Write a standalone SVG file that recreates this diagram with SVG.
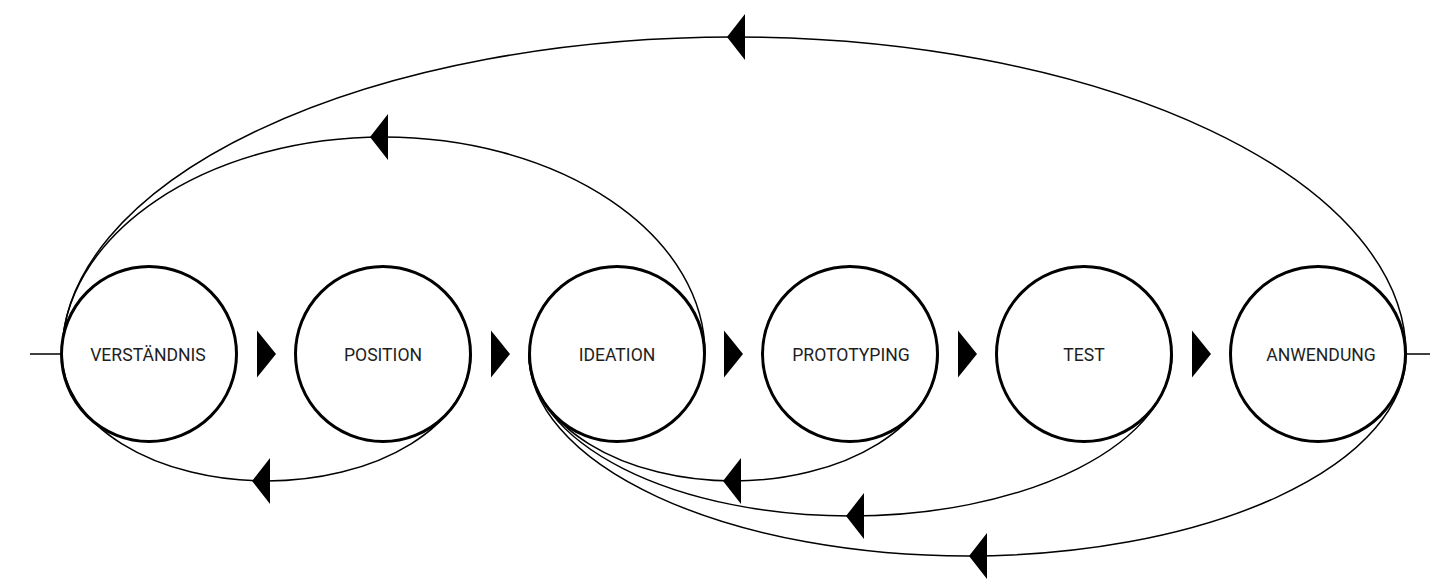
<svg xmlns="http://www.w3.org/2000/svg" xmlns:xlink="http://www.w3.org/1999/xlink" width="1436" height="579" viewBox="0 0 1436 579">
  <style>
    .node circle { fill: none; stroke: #000; stroke-width: 3; }
    .node text { font-family: Roboto, "Liberation Sans", sans-serif; font-size: 17.6px; font-weight: 400; fill: #1e1e1e; text-anchor: middle; }
    .conn { fill: none; stroke: #000; stroke-width: 1.5; }
    .head { fill: #000; }
  </style>
  <defs>
    <polygon id="larr" points="0,0 18,-23 18,23"/>
    <polygon id="rarr" points="0,-23.5 19,0 0,23.5"/>
  </defs>
  <rect width="1436" height="579" fill="#fff"/>
  <g id="connectors">
    <line class="conn" x1="30" y1="354" x2="62" y2="354"/>
    <line class="conn" x1="1406" y1="354" x2="1430" y2="354"/>
    <path class="conn" d="M 1406 354 A 672 317 0 0 0 62 354"/>
    <path class="conn" d="M 705 354 A 321.5 217 0 0 0 62 354"/>
    <path class="conn" d="M 471 354 A 204.5 127 0 0 1 62 354"/>
    <path class="conn" d="M 938 354 A 204.5 127 0 0 1 529 354"/>
    <path class="conn" d="M 1172 354 A 321.5 162 0 0 1 529 354"/>
    <path class="conn" d="M 1406 354 A 438.5 202 0 0 1 529 354"/>
    <g class="head">
      <use xlink:href="#larr" x="727" y="37"/>
      <use xlink:href="#larr" x="370" y="137"/>
      <use xlink:href="#larr" x="252" y="481"/>
      <use xlink:href="#larr" x="723" y="481"/>
      <use xlink:href="#larr" x="846" y="516"/>
      <use xlink:href="#larr" x="969" y="556"/>
      <use xlink:href="#rarr" x="257" y="354"/>
      <use xlink:href="#rarr" x="491" y="354"/>
      <use xlink:href="#rarr" x="724" y="354"/>
      <use xlink:href="#rarr" x="958" y="354"/>
      <use xlink:href="#rarr" x="1192" y="354"/>
    </g>
  </g>
  <g id="node-verstaendnis" class="node">
    <circle cx="149" cy="354" r="87.5"/>
    <text x="148" y="360.5">VERSTÄNDNIS</text>
  </g>
  <g id="node-position" class="node">
    <circle cx="383" cy="354" r="87.5"/>
    <text x="383" y="360.5">POSITION</text>
  </g>
  <g id="node-ideation" class="node">
    <circle cx="617" cy="354" r="87.5"/>
    <text x="617" y="360.5">IDEATION</text>
  </g>
  <g id="node-prototyping" class="node">
    <circle cx="850" cy="354" r="87.5"/>
    <text x="851" y="360.5">PROTOTYPING</text>
  </g>
  <g id="node-test" class="node">
    <circle cx="1084" cy="354" r="87.5"/>
    <text x="1084" y="360.5">TEST</text>
  </g>
  <g id="node-anwendung" class="node">
    <circle cx="1318" cy="354" r="87.5"/>
    <text x="1321" y="360.5">ANWENDUNG</text>
  </g>
</svg>
